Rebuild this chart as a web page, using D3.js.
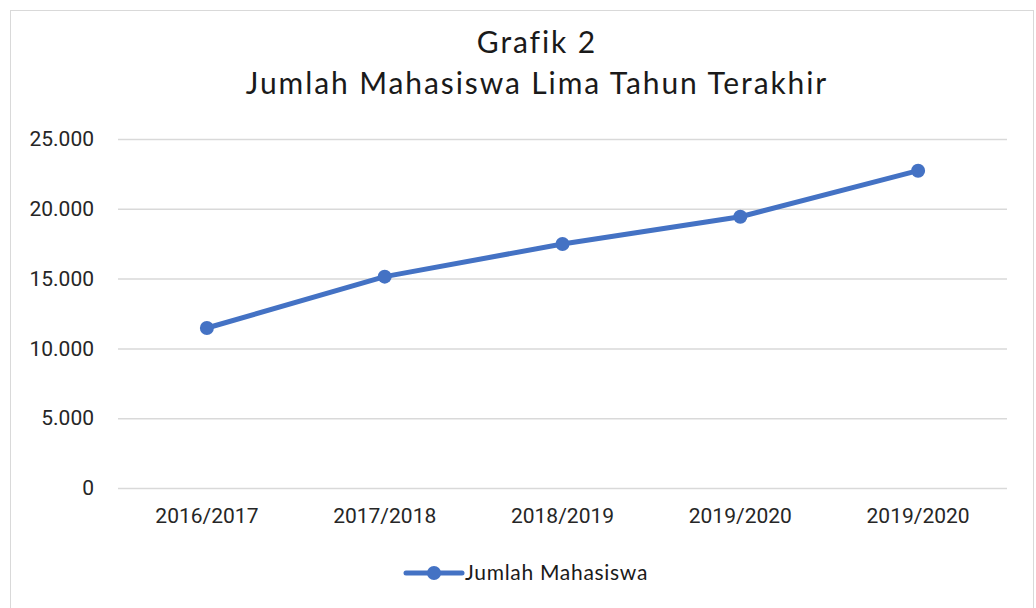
<!DOCTYPE html>
<html>
<head>
<meta charset="utf-8">
<script src="https://cdn.jsdelivr.net/npm/d3@7"></script>
<style>
  body { margin: 0; background: #fff; }
  .axis text { font-family: Roboto, "Noto Sans", sans-serif; fill: #262626; }
  .title, .legend-label { font-family: Lato, "Open Sans", sans-serif; fill: #1a1a1a; }
</style>
</head>
<body>
<div id="chart"></div>
<script>
// data
const years = ["2016/2017", "2017/2018", "2018/2019", "2019/2020", "2019/2020"];
const students = [11460, 15140, 17480, 19430, 22730];
const yTicks = [0, 5000, 10000, 15000, 20000, 25000];
const titleLines = ["Grafik 2", "Jumlah Mahasiswa Lima Tahun Terakhir"];
const seriesName = "Jumlah Mahasiswa";

const config = {
    width: 1036,
    height: 608,
    margin: {top: 139, right: 29, bottom: 120, left: 118},
    color: '#4472C4'
};

const innerWidth = config.width - config.margin.left - config.margin.right;
const innerHeight = config.height - config.margin.top - config.margin.bottom;

const svg = d3.select('#chart').append('svg')
    .attr('width', config.width)
    .attr('height', config.height);

// outer frame of the chart
svg.append('rect')
    .attr('x', 10.5).attr('y', 10.5)
    .attr('width', 1023).attr('height', 620)
    .attr('fill', 'none')
    .attr('stroke', '#d9d9d9')
    .attr('stroke-width', 1);

const chart = svg.append('g')
    .attr('transform', `translate(${config.margin.left},${config.margin.top})`);

// scales
const x = d3.scaleBand()
    .domain(d3.range(years.length))
    .range([0, innerWidth]);

const y = d3.scaleLinear()
    .domain([0, 25000])
    .range([innerHeight, 0]);

const fmt = d => d3.format(',')(d).replace(/,/g, '.');

// y axis with gridlines
const yAxisG = chart.append('g')
    .attr('class', 'axis y-axis')
    .call(d3.axisLeft(y).tickValues(yTicks).tickSize(-innerWidth).tickPadding(24).tickFormat(fmt))
    .call(g => g.select('.domain').remove());
yAxisG.selectAll('line').attr('stroke', '#d9d9d9').attr('stroke-width', 1.5);
yAxisG.selectAll('text').attr('font-size', 21);

// x axis
const xAxisG = chart.append('g')
    .attr('class', 'axis x-axis')
    .attr('transform', `translate(0,${innerHeight})`)
    .call(d3.axisBottom(x).tickSize(0).tickPadding(20).tickFormat(i => years[i]))
    .call(g => g.select('.domain').remove());
xAxisG.selectAll('text').attr('font-size', 21);

// line + markers
const line = d3.line()
    .x((d, i) => x(i) + x.bandwidth() / 2)
    .y(d => y(d));

chart.append('path')
    .datum(students)
    .attr('fill', 'none')
    .attr('stroke', config.color)
    .attr('stroke-width', 5)
    .attr('stroke-linecap', 'round')
    .attr('stroke-linejoin', 'round')
    .attr('d', line);

chart.selectAll('.mark')
    .data(students)
    .join('circle')
    .attr('class', 'mark')
    .attr('cx', (d, i) => x(i) + x.bandwidth() / 2)
    .attr('cy', d => y(d))
    .attr('r', 7)
    .attr('fill', config.color);

// title
svg.selectAll('.title')
    .data(titleLines)
    .join('text')
    .attr('class', 'title')
    .attr('x', 537)
    .attr('y', (d, i) => 53 + i * 41)
    .attr('text-anchor', 'middle')
    .attr('font-size', 30)
    .attr('letter-spacing', 1.9)
    .text(d => d);

// legend
const legend = svg.append('g')
    .attr('transform', 'translate(406,573)');
legend.append('line')
    .attr('x1', 0).attr('x2', 56)
    .attr('stroke', config.color)
    .attr('stroke-width', 5)
    .attr('stroke-linecap', 'round');
legend.append('circle')
    .attr('cx', 28).attr('r', 7)
    .attr('fill', config.color);
legend.append('text')
    .attr('class', 'legend-label')
    .attr('x', 59)
    .attr('dy', '0.35em')
    .attr('font-size', 21)
    .attr('letter-spacing', 0.7)
    .text(seriesName);
</script>
</body>
</html>
